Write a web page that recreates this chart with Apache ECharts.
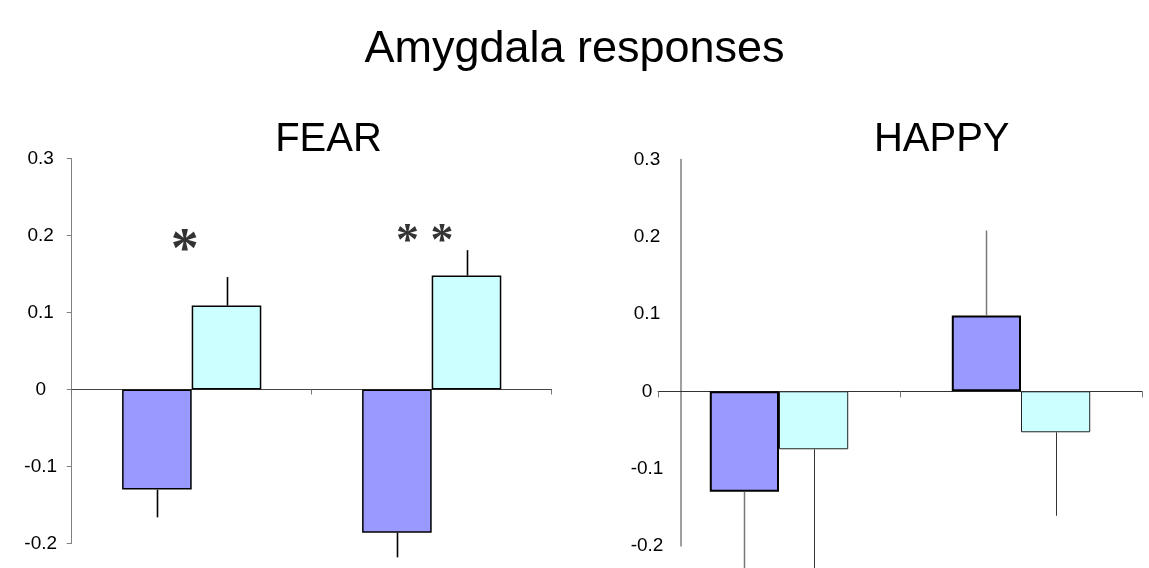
<!DOCTYPE html>
<html>
<head>
<meta charset="utf-8">
<script src="https://cdn.jsdelivr.net/npm/echarts@6/dist/echarts.min.js"></script>
<style>html,body{margin:0;padding:0;background:#fff;}#c{width:1149px;height:568px;}</style>
</head>
<body>
<div id="c"></div>
<script>
// ---- data ----
const categories = ['Group 1', 'Group 2'];
const fearPurple = [-0.130, -0.186];
const fearPurpleErr = [-0.166, -0.218];
const fearCyan = [0.109, 0.148];
const fearCyanErr = [0.146, 0.181];
const happyPurple = [-0.130, 0.098];
const happyPurpleErr = [-0.262, 0.208];
const happyCyan = [-0.075, -0.053];
const happyCyanErr = [-0.262, -0.161];
const starLabels = ['*', '* *'];
const starY = [0.194, 0.206];
const yMin = -0.2, yMax = 0.3, yStep = 0.1;

// ---- styling ----
const PURPLE = '#9999FF', CYAN = '#CCFFFF';
const FONT = 'Liberation Sans, Arial, sans-serif';
const ratioL = 0.29, ratioR = 0.286;

function errRender(sign, ratio, color, width) {
  return function (params, api) {
    const idx = api.value(0);
    const base = api.coord([idx, api.value(1)]);
    const end = api.coord([idx, api.value(2)]);
    const bw = api.size([1, 0])[0] * ratio;
    const x = Math.round(base[0] + sign * bw / 2) + 0.5;
    return {
      type: 'line',
      shape: { x1: x, y1: base[1], x2: x, y2: end[1] },
      style: { stroke: color, lineWidth: width }
    };
  };
}
function errData(vals, errs) {
  return vals.map((v, i) => [i, v, errs[i]]);
}
const fmt = v => String(+(+v).toFixed(1));

const chart = echarts.init(document.getElementById('c'), null, { renderer: 'canvas' });
chart.setOption({
  animation: false,
  backgroundColor: '#fff',
  title: [
    { text: 'Amygdala responses', left: 'center', top: 27, padding: 0,
      textStyle: { fontFamily: FONT, fontSize: 45, fontWeight: 'normal', color: '#000' } },
    { text: 'FEAR', left: 328.5, top: 120, padding: 0, textAlign: 'center',
      textStyle: { fontFamily: FONT, fontSize: 40, fontWeight: 'normal', color: '#000' } },
    { text: 'HAPPY', left: 941.7, top: 120, padding: 0, textAlign: 'center',
      textStyle: { fontFamily: FONT, fontSize: 40, fontWeight: 'normal', color: '#000' } }
  ],
  grid: [
    { left: 71.7, width: 480, top: 158.5, height: 385 },
    { left: 658, width: 484, top: 159.4, height: 386.5 }
  ],
  xAxis: [
    { type: 'category', gridIndex: 0, data: categories,
      axisLine: { onZero: true, lineStyle: { color: '#444', width: 1 } },
      axisTick: { show: true, length: 5, lineStyle: { color: '#777' } },
      axisLabel: { show: false }, splitLine: { show: false } },
    { type: 'category', gridIndex: 1, data: categories,
      axisLine: { onZero: true, lineStyle: { color: '#333', width: 1 } },
      axisTick: { show: true, length: 6, lineStyle: { color: '#777' } },
      axisLabel: { show: false }, splitLine: { show: false } }
  ],
  yAxis: [
    { type: 'value', gridIndex: 0, min: yMin, max: yMax, interval: yStep,
      axisLine: { show: true, lineStyle: { color: '#808080', width: 1 } },
      axisTick: { show: true, length: 5, lineStyle: { color: '#808080' } },
      splitLine: { show: false },
      axisLabel: { formatter: fmt, align: 'center', margin: 31, color: '#000',
        fontFamily: FONT, fontSize: 19, padding: [6, 0, 0, 0] } },
    { type: 'value', gridIndex: 1, min: yMin, max: yMax, interval: yStep, offset: -23,
      axisLine: { show: true, lineStyle: { color: '#808080', width: 1.5 } },
      axisTick: { show: false },
      splitLine: { show: false },
      axisLabel: { formatter: fmt, align: 'center', margin: 34, color: '#000',
        fontFamily: FONT, fontSize: 19, padding: [7, 0, 0, 0] } }
  ],
  series: [
    { type: 'bar', xAxisIndex: 0, yAxisIndex: 0, data: fearPurple, barWidth: (ratioL * 100) + '%', barGap: '0%',
      itemStyle: { color: PURPLE, borderColor: '#000', borderWidth: 1.5 } },
    { type: 'bar', xAxisIndex: 0, yAxisIndex: 0, data: fearCyan, barWidth: (ratioL * 100) + '%', barGap: '0%',
      itemStyle: { color: CYAN, borderColor: '#000', borderWidth: 1.5 } },
    { type: 'custom', xAxisIndex: 0, yAxisIndex: 0, clip: false, renderItem: errRender(-1, ratioL, '#000', 1.6),
      data: errData(fearPurple, fearPurpleErr), z: 3 },
    { type: 'custom', xAxisIndex: 0, yAxisIndex: 0, clip: false, renderItem: errRender(1, ratioL, '#000', 1.6),
      data: errData(fearCyan, fearCyanErr), z: 3 },
    { type: 'scatter', xAxisIndex: 0, yAxisIndex: 0, symbolSize: 0,
      data: starY.map((v, i) => ({ value: [i, v], label: { fontSize: i === 0 ? 56 : 46 } })),
      label: { show: true, position: 'inside', formatter: p => starLabels[p.dataIndex],
        fontFamily: 'Liberation Serif, Times New Roman, serif', fontWeight: 'bold', color: '#000', offset: [-7, 12] } },

    { type: 'bar', xAxisIndex: 1, yAxisIndex: 1, data: happyPurple, barWidth: (ratioR * 100) + '%', barGap: '0%',
      itemStyle: { color: PURPLE, borderColor: '#000', borderWidth: 2 } },
    { type: 'bar', xAxisIndex: 1, yAxisIndex: 1, data: happyCyan, barWidth: (ratioR * 100) + '%', barGap: '0%',
      itemStyle: { color: CYAN, borderColor: '#222', borderWidth: 1 } },
    { type: 'custom', xAxisIndex: 1, yAxisIndex: 1, clip: false, renderItem: errRender(-1, ratioR, '#777', 1.5),
      data: errData(happyPurple, happyPurpleErr), z: 3 },
    { type: 'custom', xAxisIndex: 1, yAxisIndex: 1, clip: false, renderItem: errRender(1, ratioR, '#333', 1),
      data: errData(happyCyan, happyCyanErr), z: 3 }
  ]
});
</script>
</body>
</html>
